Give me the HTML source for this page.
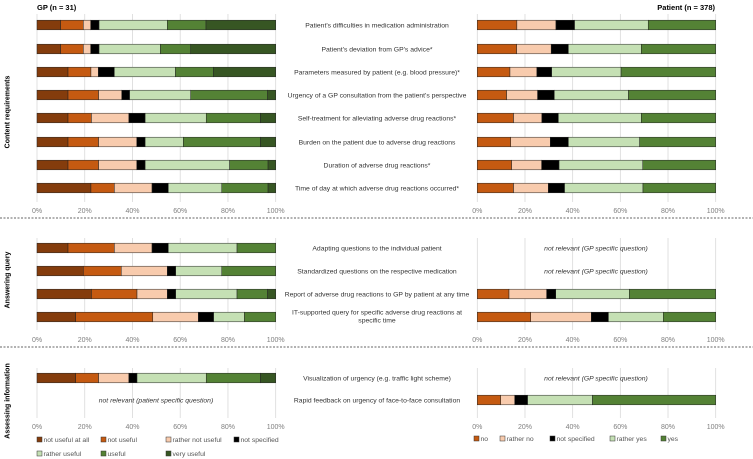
<!DOCTYPE html>
<html><head><meta charset="utf-8"><style>
html,body{margin:0;padding:0;background:#fff;}
svg{display:block;font-family:"Liberation Sans",sans-serif;}
</style></head><body>
<svg id="c" width="753" height="459" viewBox="0 0 753 459"></svg>
<script>
const gpCats=["not useful at all","not useful","rather not useful","not specified","rather useful","useful","very useful"];
const gpColors=["#843c0c","#c55a11","#f8cbad","#000000","#c5e0b4","#548235","#375623"];
const ptCats=["no","rather no","not specified","rather yes","yes"];
const ptColors=["#c55a11","#f8cbad","#000000","#c5e0b4","#548235"];
const labels=[["Patient's difficulties in medication administration"],["Patient's deviation from GP's advice*"],["Parameters measured by patient (e.g. blood pressure)*"],["Urgency of a GP consultation from the patient's perspective"],["Self-treatment for alleviating adverse drug reactions*"],["Burden on the patient due to adverse drug reactions"],["Duration of adverse drug reactions*"],["Time of day at which adverse drug reactions occurred*"],["Adapting questions to the individual patient"],["Standardized questions on the respective medication"],["Report of adverse drug reactions to GP by patient at any time"],["IT-supported query for specific adverse drug reactions at","specific time"],["Visualization of urgency (e.g. traffic light scheme)"],["Rapid feedback on urgency of face-to-face consultation"]];
const gpValues=[
[9.9,9.5,3.1,3.5,28.6,16.2,29.2],[9.9,9.5,3.1,3.5,25.7,12.7,35.6],[13,9.6,3.1,6.7,25.6,15.9,26.1],[13,12.8,9.7,3.3,25.6,32.2,3.4],
[13,9.8,15.7,6.8,25.6,22.7,6.4],[13,12.8,16,3.5,16,32.3,6.4],[13,12.8,16,3.5,35.4,16.1,3.2],[22.6,9.8,15.8,6.8,22.4,19.4,3.2],
[13,19.4,15.8,6.8,28.8,16.2,0],[19.4,15.9,19.3,3.5,19.3,22.6,0],[22.8,19.1,12.7,3.5,25.7,12.8,3.4],[16.2,32.3,19.1,6.4,12.9,13.1,0],
[16.2,9.6,12.7,3.4,29,22.7,6.4],null];
const ptValues=[
[16.6,16.4,7.8,30.9,28.3],[16.5,14.5,7.2,30.6,31.2],[13.7,11.3,6.2,29.1,39.7],[12.3,13,7,31.1,36.6],
[15.2,11.9,6.9,34.8,31.2],[14,16.6,7.6,29.9,31.9],[14.4,12.6,7.3,35.1,30.6],[15.2,14.6,6.8,32.9,30.5],
null,null,[13.3,15.8,3.8,30.9,36.2],[22.4,25.4,7.2,23,22],null,[9.8,5.9,5.4,27.2,51.7]];
const ticks=["0%","20%","40%","60%","80%","100%"];
const rowY=[25,49,72,95,118,142,165,188,248,271,294,317,378,400];
const sections=[{top:14,bot:202,axis:211,title:"Content requirements",ty:112,line:218},{top:238,bot:330,axis:340,title:"Answering query",ty:280,line:347},{top:368,bot:418,axis:427,title:"Assessing information",ty:401,line:null}];
const svg=document.getElementById('c');const NS="http://www.w3.org/2000/svg";
function mk(t,a,p){const e=document.createElementNS(NS,t);for(const k in a)e.setAttribute(k,a[k]);(p||svg).appendChild(e);return e;}
const gx=v=>37+v/100*238.7, px=v=>477.3+v/100*238.4;
function txt(x,y,s,opts){const e=mk('text',Object.assign({x:x,y:y,'font-size':7,fill:'#333'},opts||{}));e.textContent=s;return e;}
let t=txt(37,10,"GP (n = 31)",{'font-weight':'bold','font-size':7.5,fill:'#000'});


t=txt(715,10,"Patient (n = 378)",{'font-weight':'bold','font-size':7.5,fill:'#000','text-anchor':'end'});


sections.forEach((s,si)=>{
  [gx,px].forEach((f,fi)=>{
    ticks.forEach((tk,i)=>{
      const g=mk('line',{x1:f(i*20),x2:f(i*20),y1:s.top,y2:s.bot,stroke:'#d9d9d9','stroke-width':0.8});
      
      
      const l=txt(f(i*20),s.axis+2,tk,{'text-anchor':'middle',fill:'#7f7f7f','font-size':7});
      
      
    });
  });
  const st=txt(0,0,s.title,{'font-weight':'bold','font-size':7,fill:'#000','text-anchor':'middle',transform:`translate(9.5,${s.ty}) rotate(-90)`});
  
  
  if(s.line){const dl=mk('line',{x1:0,x2:753,y1:s.line,y2:s.line,stroke:'#333','stroke-width':0.8,'stroke-dasharray':'2,1.5'});
  
  }
});
function bar(vals,colors,f,y,name){let c=0;vals.forEach((v,i)=>{if(v<=0)return;const r=mk('rect',{x:f(c),y:y-4.8,width:f(c+v)-f(c),height:9.6,fill:colors[i],stroke:'#222','stroke-width':0.5});

c+=v;});}
rowY.forEach((y,i)=>{
  const lb=labels[i];
  lb.forEach((s,j)=>{const e=txt(377,y+2.5+(lb.length>1?(j*8-5):0),s,{'text-anchor':'middle','font-size':6.8});
  
  });
  if(gpValues[i])bar(gpValues[i],gpColors,gx,y,'gp-bar');
  else{const e=txt(156,y+2.5,"not relevant (patient specific question)",{'text-anchor':'middle','font-style':'italic','font-size':6.8});
  
  }
  if(ptValues[i])bar(ptValues[i],ptColors,px,y,'patient-bar');
  else{const e=txt(596,y+2.5,"not relevant  (GP specific question)",{'text-anchor':'middle','font-style':'italic','font-size':6.8});
  
  }
});
const gpLegX=[37,101,166,234,37,101,166],gpLegY=[441,441,441,441,455,455,455];
gpCats.forEach((c,i)=>{const r=mk('rect',{x:gpLegX[i],y:gpLegY[i]-4,width:5,height:5,fill:gpColors[i],stroke:'#333','stroke-width':0.5});


const e=txt(gpLegX[i]+6.5,gpLegY[i]+1,c,{'font-size':6.8,fill:'#555'});

});
const ptLegX=[474,500,550,610,661];
ptCats.forEach((c,i)=>{const r=mk('rect',{x:ptLegX[i],y:436,width:5,height:5,fill:ptColors[i],stroke:'#333','stroke-width':0.5});


const e=txt(ptLegX[i]+6.5,441,c,{'font-size':6.8,fill:'#555'});

});
</script>
</body></html>
